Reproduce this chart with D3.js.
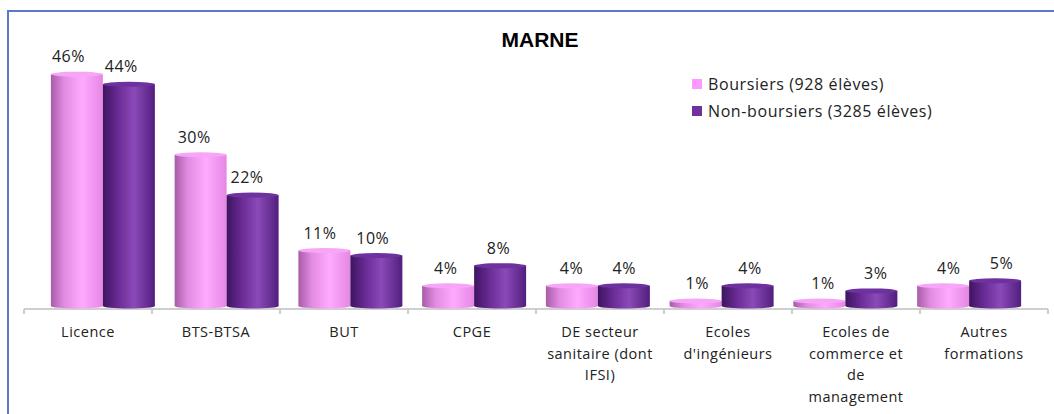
<!DOCTYPE html>
<html><head><meta charset="utf-8">
<script src="https://cdn.jsdelivr.net/npm/d3@7/dist/d3.min.js"></script>
<style>
body{margin:0;background:#fff;}
svg{display:block;}
</style></head>
<body>
<svg id="c" width="1054" height="414"></svg>
<script>
const title = "MARNE";
const categories = ["Licence","BTS-BTSA","BUT","CPGE","DE secteur sanitaire (dont IFSI)","Ecoles d'ingénieurs","Ecoles de commerce et de management","Autres formations"];
const tickLabels = [["Licence"],["BTS-BTSA"],["BUT"],["CPGE"],["DE secteur","sanitaire (dont","IFSI)"],["Ecoles","d'ingénieurs"],["Ecoles de","commerce et","de","management"],["Autres","formations"]];
const seriesNames = ["Boursiers (928 élèves)","Non-boursiers (3285 élèves)"];
const boursiers = [46,30,11,4,4,1,1,4];
const nonBoursiers = [44,22,10,8,4,4,3,5];
const seriesValues = [boursiers, nonBoursiers];

const svg = d3.select("#c");
const font = "'Open Sans', sans-serif";

// border
svg.append("rect").attr("x",8).attr("y",11).attr("width",1070).attr("height",430)
  .attr("fill","none").attr("stroke","#5b79c8").attr("stroke-width",2);

// gradients
const defs = svg.append("defs");
const grads = [
  {id:"g0", stops:[[0,"#a85ca8"],[0.25,"#e08ae0"],[0.6,"#ffaaff"],[1,"#e487e4"]], top:"#f7a6f7"},
  {id:"g1", stops:[[0,"#3e1460"],[0.3,"#6a2c96"],[0.6,"#8a4ab8"],[1,"#521e7e"]], top:"#6e32a0"}
];
grads.forEach(g=>{
  const lg = defs.append("linearGradient").attr("id",g.id).attr("x1","0").attr("x2","1").attr("y1","0").attr("y2","0");
  g.stops.forEach(s=>lg.append("stop").attr("offset",s[0]).attr("stop-color",s[1]));
});

// scales
const xAxis = d3.scaleBand().domain(categories).range([24,1048]);
const xBar = d3.scaleBand().domain(categories).range([41,1031]);
const xBarSub = d3.scaleBand().domain([0,1]).range([0,xBar.bandwidth()]).paddingOuter(0.19);
const xLab = d3.scaleBand().domain(categories).range([32,1038]);
const xLabSub = d3.scaleBand().domain([0,1]).range([0,xLab.bandwidth()]).paddingOuter(0.19);
const y = d3.scaleLinear().domain([0,50]).range([306,54]);

// axis
const axisG = svg.append("g").attr("transform","translate(0,309)");
axisG.append("line").attr("x1",24).attr("x2",1048).attr("stroke","#bfbfbf").attr("stroke-width",1.5);
const bounds = categories.map(c=>xAxis(c)).concat([xAxis.range()[1]]);
axisG.selectAll("line.tk").data(bounds).join("line").attr("class","tk")
  .attr("x1",d=>d).attr("x2",d=>d).attr("y1",0).attr("y2",5)
  .attr("stroke","#bfbfbf").attr("stroke-width",1.5);

// category labels
const catG = svg.append("g");
categories.forEach((c,i)=>{
  const t = catG.append("text").attr("x",xAxis(c)+xAxis.bandwidth()/2).attr("y",337)
    .attr("text-anchor","middle").attr("font-family",font).attr("font-size",14.5)
    .attr("letter-spacing",0.5).attr("fill","#222");
  tickLabels[i].forEach((l,j)=>t.append("tspan").attr("x",xAxis(c)+xAxis.bandwidth()/2).attr("dy",j===0?0:21.5).text(l));
});

// bars (cylinders)
const ry = 2.5;
const barG = svg.append("g");
categories.forEach((c,i)=>{
  [0,1].forEach(s=>{
    const v = seriesValues[s][i];
    const x0 = xBar(c)+xBarSub(s), w = xBarSub.bandwidth();
    const yt = y(v), yb = y(0);
    const g = barG.append("g");
    g.append("rect").attr("x",x0).attr("y",yt).attr("width",w).attr("height",yb-yt).attr("fill",`url(#${grads[s].id})`);
    g.append("ellipse").attr("cx",x0+w/2).attr("cy",yb).attr("rx",w/2).attr("ry",ry).attr("fill",`url(#${grads[s].id})`);
    g.append("ellipse").attr("cx",x0+w/2).attr("cy",yt).attr("rx",w/2).attr("ry",ry).attr("fill",grads[s].top);
  });
});

// data labels
const labG = svg.append("g");
categories.forEach((c,i)=>{
  [0,1].forEach(s=>{
    const v = seriesValues[s][i];
    labG.append("text").attr("x",xLab(c)+xLabSub(s)+xLabSub.bandwidth()/2).attr("y",y(v)-12)
      .attr("text-anchor","middle").attr("font-family",font).attr("font-size",16)
      .attr("letter-spacing",0.5).attr("fill","#222")
      .text(v+"%");
  });
});

// title
svg.append("text").attr("x",540).attr("y",47).attr("text-anchor","middle")
  .attr("font-family","'Liberation Sans', Arial, sans-serif").attr("font-weight","bold").attr("font-size",21).attr("fill","#000").text(title);

// legend
const legColors = ["#ff99ff","#7030a0"];
const leg = svg.append("g");
seriesNames.forEach((n,i)=>{
  const yy = 84 + i*27;
  leg.append("rect").attr("x",692).attr("y",yy-5).attr("width",10).attr("height",10).attr("fill",legColors[i]);
  leg.append("text").attr("x",708).attr("y",yy+5.5).attr("font-family",font).attr("font-size",16)
    .attr("letter-spacing",0.6).attr("fill","#222").text(n);
});
</script>
</body></html>
